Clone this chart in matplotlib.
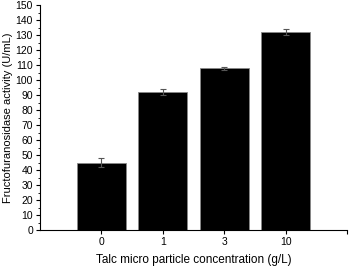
import matplotlib
matplotlib.use("Agg")
import matplotlib.pyplot as plt
from matplotlib.ticker import MultipleLocator

categories = ["0", "1", "3", "10"]
values = [45, 92, 108, 132]
errors = [3, 2, 1, 2]

plt.rcParams['font.family'] = ['Liberation Sans', 'DejaVu Sans']

fig = plt.figure(figsize=(3.5, 2.66), dpi=100)
ax = fig.add_axes([40/350, 1-230/266, 307/350, 225/266])
x = list(range(len(categories)))
ax.bar(x, values, width=0.8, color='black', edgecolor='#888888', linewidth=0.6,
       yerr=errors, error_kw=dict(ecolor='#555555', elinewidth=0.8, capsize=2.5, capthick=0.8))
ax.set_xlim(-1, 4)
ax.set_ylim(0, 150)
ax.set_xticks(x + [4])
ax.set_xticklabels(categories + [""])
ax.yaxis.set_major_locator(MultipleLocator(10))
ax.yaxis.set_minor_locator(MultipleLocator(5))
for s in ['top', 'right']:
    ax.spines[s].set_visible(False)
for s in ['left', 'bottom']:
    ax.spines[s].set_linewidth(0.8)
ax.tick_params(axis='both', which='major', direction='out', length=3, width=0.8, labelsize=7.5, pad=2)
ax.tick_params(axis='y', which='minor', direction='out', length=1.8, width=0.6)
ax.set_xlabel("Talc micro particle concentration (g/L)", fontsize=8.5, labelpad=5)
ax.set_ylabel("Fructofuranosidase activity (U/mL)", fontsize=8, labelpad=2)
fig.savefig("out.png", dpi=100)
